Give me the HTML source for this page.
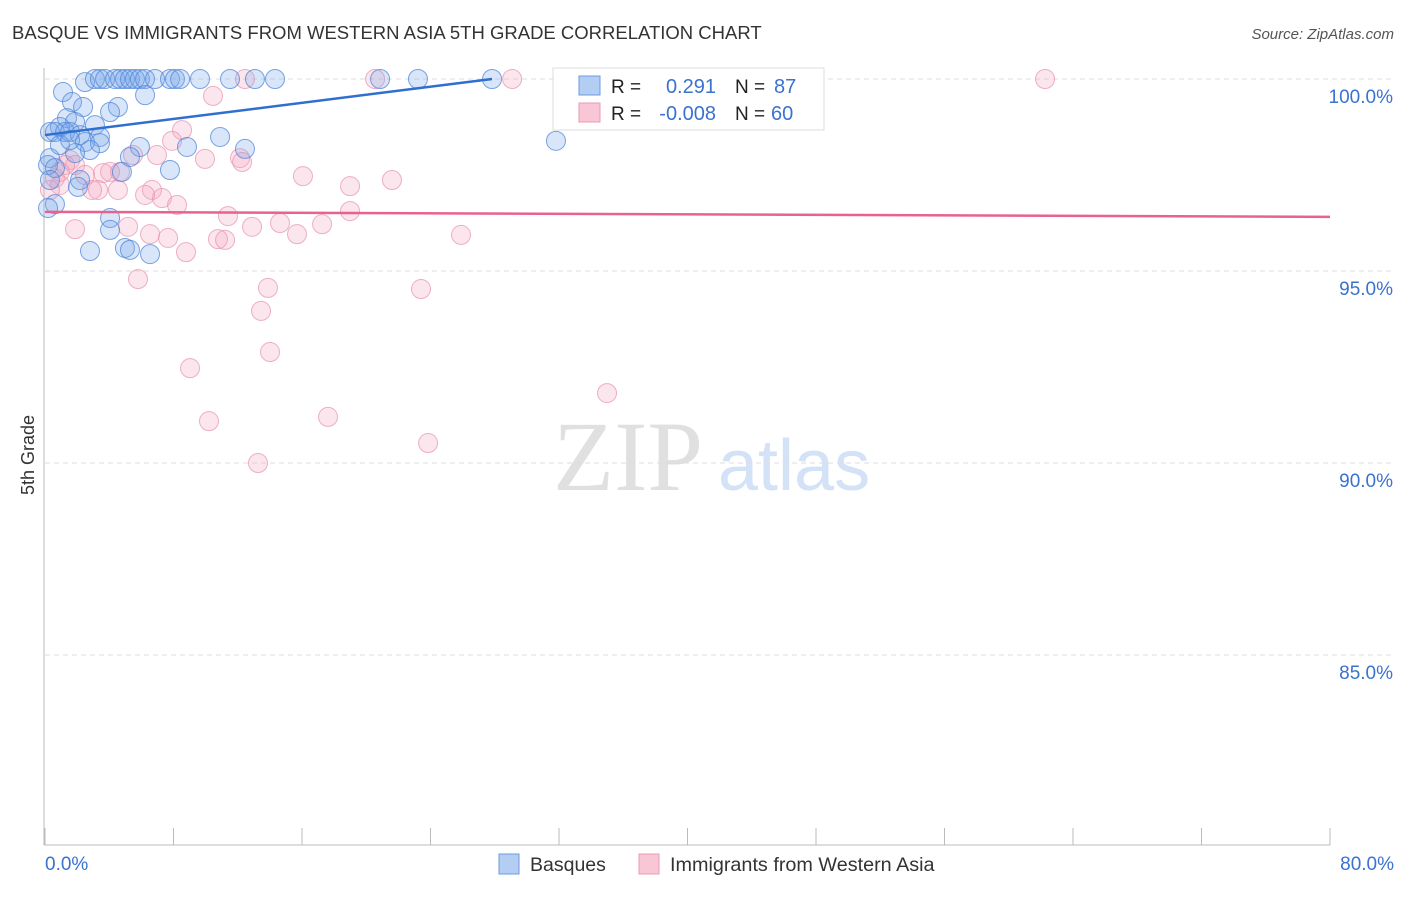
<!DOCTYPE html>
<html><head><meta charset="utf-8"><style>
body{margin:0;background:#fff;font-family:"Liberation Sans",sans-serif}
</style></head><body>
<svg width="1406" height="892" viewBox="0 0 1406 892" font-family="Liberation Sans, sans-serif">
<text x="12" y="39" font-size="18.5" fill="#333">BASQUE VS IMMIGRANTS FROM WESTERN ASIA 5TH GRADE CORRELATION CHART</text>
<text x="1394" y="39" font-size="15" fill="#555" font-style="italic" text-anchor="end">Source: ZipAtlas.com</text>
<text transform="translate(34,455) rotate(-90)" font-size="18" fill="#333" text-anchor="middle">5th Grade</text>
<g>
<text x="553" y="490" font-size="100" fill="#e0e0e0" style="font-family:'Liberation Serif',serif">ZIP</text>
<text x="718" y="490" font-size="72" fill="#d3e2f6">atlas</text>
</g>
<g id="grid"></g>
<g id="axes"></g>
<g id="marks"></g>
<g id="trends"></g>
<g>
<rect x="553" y="68" width="271" height="62" fill="#fff" stroke="#ddd"/>
<rect x="579" y="76" width="21" height="19" fill="#b4cdf2" stroke="#6b9be0"/>
<rect x="579" y="103" width="21" height="19" fill="#f9c6d5" stroke="#eb9ab5"/>
<text x="611" y="93" font-size="19" fill="#222">R =</text>
<text x="716" y="93" font-size="20" fill="#3a72d0" text-anchor="end">0.291</text>
<text x="735" y="93" font-size="19" fill="#222">N =</text>
<text x="774" y="93" font-size="20" fill="#3a72d0">87</text>
<text x="611" y="120" font-size="19" fill="#222">R =</text>
<text x="716" y="120" font-size="20" fill="#3a72d0" text-anchor="end">-0.008</text>
<text x="735" y="120" font-size="19" fill="#222">N =</text>
<text x="771" y="120" font-size="20" fill="#3a72d0">60</text>
</g>
<g>
<rect x="499" y="854" width="20" height="20" fill="#b4cdf2" stroke="#6b9be0"/>
<text x="530" y="871" font-size="19.5" fill="#333">Basques</text>
<rect x="639" y="854" width="20" height="20" fill="#f9c6d5" stroke="#eb9ab5"/>
<text x="670" y="871" font-size="19.8" fill="#333">Immigrants from Western Asia</text>
</g>
</svg>
<script>
const yTicks=[100,95,90,85];
const yTickLabels=["100.0%","95.0%","90.0%","85.0%"];
const xTickCount=10;
const xLabels=["0.0%","80.0%"];
const blueX=[2.49,3.11,3.42,3.74,4.36,4.67,4.98,5.29,5.60,5.91,6.23,6.85,7.78,8.09,8.41,9.65,11.52,13.07,14.32,20.86,23.22,27.83,33.31,1.12,6.23,1.68,2.37,4.54,4.05,1.37,1.87,3.11,0.93,0.31,0.62,1.25,1.56,2.18,3.42,10.90,2.49,3.42,12.45,5.91,8.84,31.81,2.80,1.87,5.29,0.31,0.19,0.62,7.78,4.79,2.18,2.05,0.31,0.62,0.19,4.05,4.05,2.80,4.98,5.29,6.54,0.93,1.56];
const blueY=[99.92,100,100,100,100,100,100,100,100,100,100,100,100,100,100,100,100,100,100,100,100,100,100,99.66,99.58,99.40,99.27,99.27,99.14,98.98,98.88,98.80,98.75,98.62,98.62,98.62,98.62,98.54,98.49,98.49,98.36,98.33,98.18,98.23,98.23,98.39,98.15,98.07,97.97,97.94,97.76,97.68,97.63,97.58,97.37,97.19,97.37,96.74,96.64,96.38,96.07,95.52,95.60,95.55,95.44,98.28,98.41];
const pinkX=[10.46,12.45,20.55,29.08,42.34,62.26,8.53,7.91,5.48,6.97,9.96,12.14,12.27,1.56,1.87,0.93,0.62,0.93,2.49,4.05,3.61,4.67,6.66,7.28,8.22,4.54,3.30,6.23,16.06,18.99,21.60,18.99,11.39,1.87,5.17,6.54,7.66,8.78,10.77,11.21,12.89,14.63,15.69,17.25,25.90,5.79,13.88,13.45,23.41,14.01,9.03,34.99,10.21,17.62,23.85,13.26,0.31,2.93,1.25];
const pinkY=[99.56,100,100,100,100,100,98.67,98.39,98.02,98.02,97.92,97.94,97.84,97.89,97.76,97.58,97.42,97.24,97.50,97.58,97.55,97.58,97.11,96.90,96.72,97.11,97.11,96.98,97.47,97.21,97.37,96.56,96.43,96.09,96.15,95.96,95.86,95.49,95.83,95.81,96.15,96.25,95.96,96.22,95.94,94.79,94.56,93.96,94.53,92.89,92.47,91.82,91.09,91.20,90.52,90.0,97.11,97.11,97.76];
const blueTrend=[[0,98.54],[27.83,100]];
const pinkTrend=[[0,96.54],[80,96.41]];
const X0=45,X1=1330,Y100=79,PXPER=38.4;
function sx(v){return X0+(v/80)*(X1-X0);}
function sy(v){return Y100+(100-v)*PXPER;}
const NS="http://www.w3.org/2000/svg";
function mk(tag,attrs,parent){const e=document.createElementNS(NS,tag);for(const k in attrs)e.setAttribute(k,attrs[k]);parent.appendChild(e);return e;}
const grid=document.getElementById('grid'),axes=document.getElementById('axes'),marks=document.getElementById('marks'),trends=document.getElementById('trends');
yTicks.forEach((t,i)=>{
 const l=mk('line',{x1:X0,x2:1394,y1:sy(t),y2:sy(t),stroke:'#ddd','stroke-dasharray':'5,4'},grid);
 
 
 const tx=mk('text',{x:1393,y:sy(t)+24,'font-size':19,fill:'#3a72d0','text-anchor':'end'},axes);
 tx.textContent=yTickLabels[i];
 
 
});
const ya=mk('line',{x1:44,x2:44,y1:68,y2:845,stroke:'#bbb'},axes);


const xa=mk('line',{x1:44,x2:1330,y1:845,y2:845,stroke:'#bbb'},axes);


for(let i=0;i<=xTickCount;i++){
 const v=i*80/xTickCount;
 const t=mk('line',{x1:sx(v),x2:sx(v),y1:828,y2:845,stroke:'#bbb'},axes);
 
 
}
[[0,'start',45],[80,'end',1394]].forEach((a,i)=>{
 const tx=mk('text',{x:a[2],y:870,'font-size':19,fill:'#3a72d0','text-anchor':a[1]},axes);
 tx.textContent=xLabels[i];
 
 
});
function dots(xs,ys,fill,stroke,name){
 xs.forEach((x,i)=>{
  const c=mk('circle',{cx:sx(x),cy:sy(ys[i]),r:9.5,fill:fill,stroke:stroke,'stroke-width':1,'stroke-opacity':0.75},marks);
  
  
 });
}
dots(pinkX,pinkY,'rgba(244,165,192,0.28)','#e895b2','point-immigrants');
dots(blueX,blueY,'rgba(120,165,232,0.28)','#4f86da','point-basques');
function trend(tr,col,name){
 const l=mk('line',{x1:sx(tr[0][0]),y1:sy(tr[0][1]),x2:sx(tr[1][0]),y2:sy(tr[1][1]),stroke:col,'stroke-width':2.5},trends);
 
 
}
trend(blueTrend,'#2f6fd0','trend-basques');
trend(pinkTrend,'#e8628e','trend-immigrants');
</script>
</body></html>
